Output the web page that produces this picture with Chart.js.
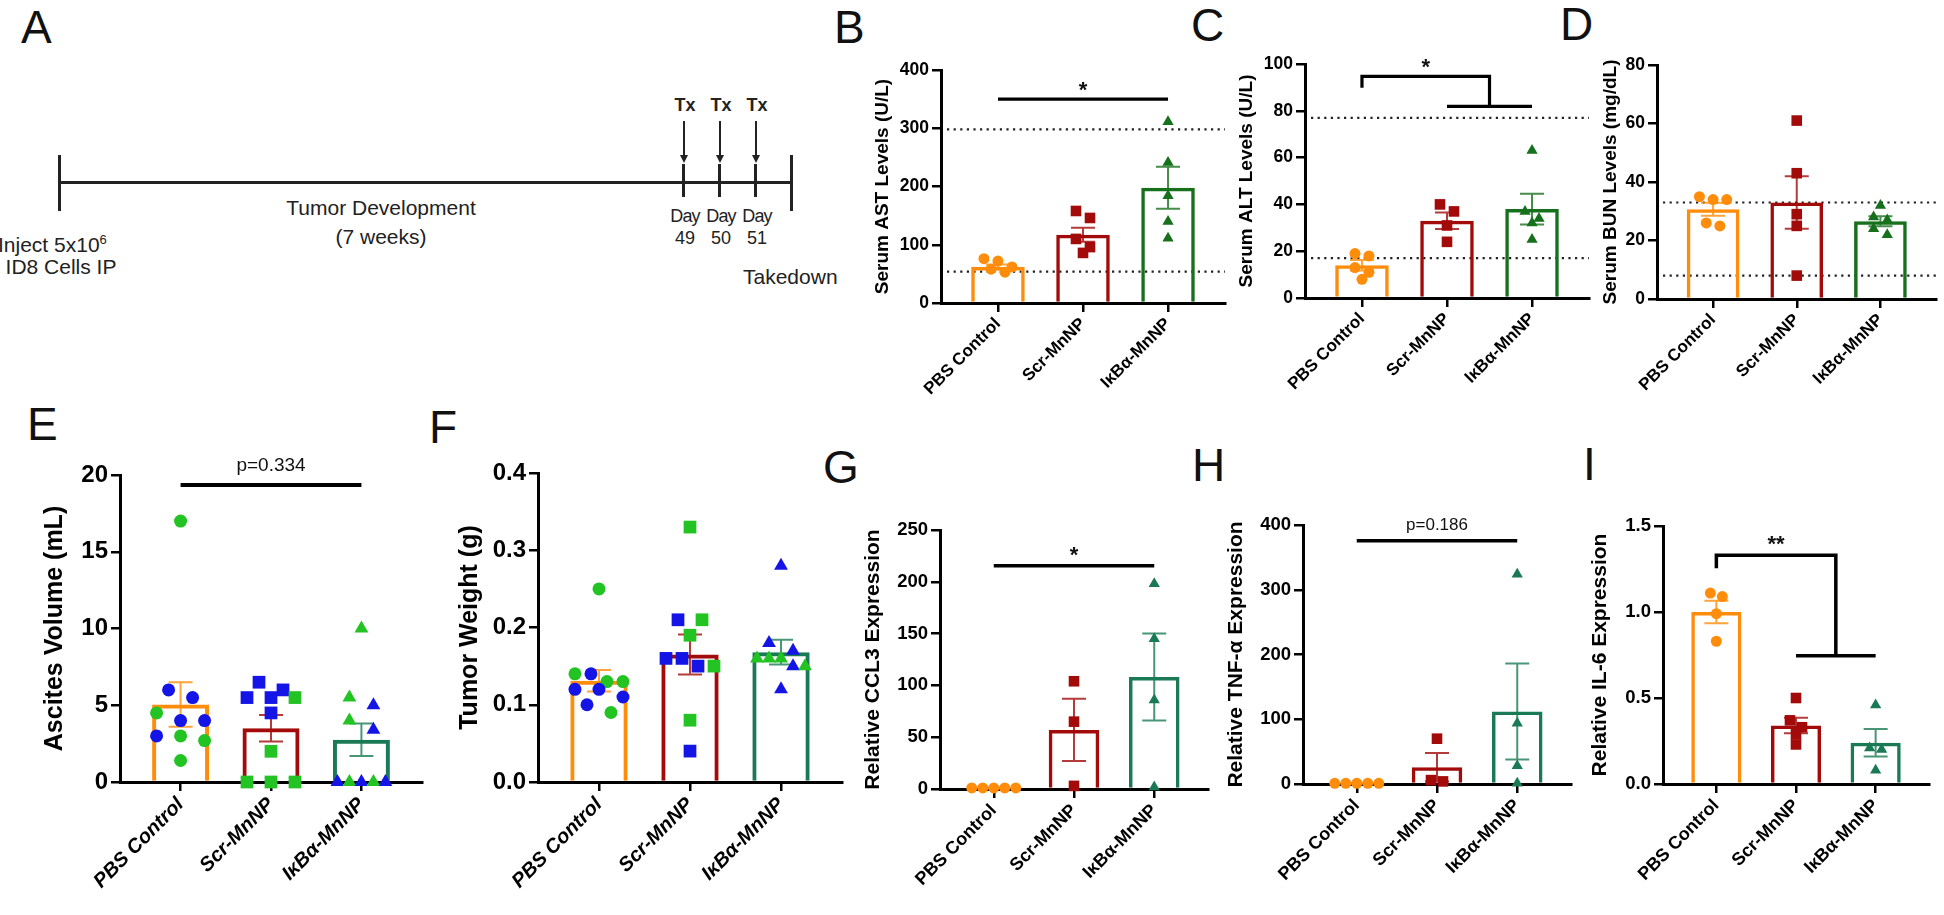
<!DOCTYPE html>
<html>
<head>
<meta charset="utf-8">
<script src="https://cdn.jsdelivr.net/npm/chart.js@4.4.1/dist/chart.umd.min.js"></script>
<style>
  body { margin: 0; width: 1944px; height: 915px; background: #fff; position: relative; overflow: hidden;
         font-family: 'Liberation Sans', Arial, sans-serif; }
  canvas { position: absolute; }
  .lbl { position: absolute; font-size: 46px; line-height: 46px; color: #111; }
  .t { position: absolute; white-space: nowrap; color: #222; text-align: center; }
  .ln { position: absolute; background: #222; }
  .head { position: absolute; width: 0; height: 0; border-left: 4px solid transparent;
          border-right: 4px solid transparent; border-top: 8px solid #222; }
</style>
</head>
<body>

<!-- panel letters -->
<div class="lbl" style="left:21px;top:4px">A</div>
<div class="lbl" style="left:834px;top:4px">B</div>
<div class="lbl" style="left:1191px;top:2px">C</div>
<div class="lbl" style="left:1560px;top:1px">D</div>
<div class="lbl" style="left:27px;top:401px">E</div>
<div class="lbl" style="left:429px;top:404px">F</div>
<div class="lbl" style="left:823px;top:444px">G</div>
<div class="lbl" style="left:1192px;top:442px">H</div>
<div class="lbl" style="left:1583px;top:441px">I</div>

<!-- panel A: study timeline -->
<div class="ln" style="left:59px;top:181px;width:733px;height:3px"></div>
<div class="ln" style="left:58px;top:155px;width:3px;height:56px"></div>
<div class="ln" style="left:790px;top:155px;width:3px;height:56px"></div>
<div class="ln" style="left:682px;top:164px;width:3px;height:33px"></div>
<div class="ln" style="left:718px;top:164px;width:3px;height:33px"></div>
<div class="ln" style="left:754px;top:164px;width:3px;height:33px"></div>
<div class="ln" style="left:683px;top:121px;width:1.5px;height:36px"></div>
<div class="ln" style="left:719px;top:121px;width:1.5px;height:36px"></div>
<div class="ln" style="left:755px;top:121px;width:1.5px;height:36px"></div>
<div class="head" style="left:680px;top:155px"></div>
<div class="head" style="left:716px;top:155px"></div>
<div class="head" style="left:752px;top:155px"></div>
<div class="t" style="left:655px;width:60px;top:96px;font-size:18px;line-height:18px;font-weight:bold">Tx</div>
<div class="t" style="left:691px;width:60px;top:96px;font-size:18px;line-height:18px;font-weight:bold">Tx</div>
<div class="t" style="left:727px;width:60px;top:96px;font-size:18px;line-height:18px;font-weight:bold">Tx</div>
<div class="t" style="left:655px;width:60px;top:207px;font-size:18px;line-height:18px;letter-spacing:-0.8px">Day</div>
<div class="t" style="left:691px;width:60px;top:207px;font-size:18px;line-height:18px;letter-spacing:-0.8px">Day</div>
<div class="t" style="left:727px;width:60px;top:207px;font-size:18px;line-height:18px;letter-spacing:-0.8px">Day</div>
<div class="t" style="left:655px;width:60px;top:229px;font-size:18px;line-height:18px">49</div>
<div class="t" style="left:691px;width:60px;top:229px;font-size:18px;line-height:18px">50</div>
<div class="t" style="left:727px;width:60px;top:229px;font-size:18px;line-height:18px">51</div>
<div class="t" style="left:231px;width:300px;top:197px;font-size:21px;line-height:22px">Tumor Development</div>
<div class="t" style="left:231px;width:300px;top:226px;font-size:21px;line-height:22px">(7 weeks)</div>
<div class="t" style="left:-2px;top:229px;font-size:21px;line-height:22px;text-align:left">Inject 5x10<sup style="font-size:13px">6</sup></div>
<div class="t" style="left:0px;width:122px;top:256px;font-size:21px;line-height:22px">ID8 Cells IP</div>
<div class="t" style="left:743px;top:266px;font-size:21px;line-height:22px;text-align:left">Takedown</div>

<script>
// ---- data ----
const groups = ['PBS Control', 'Scr-MnNP', 'IκBα-MnNP'];

// B: serum AST (U/L)
const astPBS = [76, 72, 62, 58, 53];
const astScr = [158, 146, 110, 96, 86];
const astIkB = [311, 241, 184, 140, 111];
const astMean = [62, 117, 198];
const astSem = [4, 12, 36];
const astNormal = [54, 298];

// C: serum ALT (U/L)
const altPBS = [19, 18, 13, 11, 8];
const altScr = [40, 37, 31, 24];
const altIkB = [63, 37, 34, 32, 25];
const altMean = [14, 33, 38];
const altSem = [2.2, 3.5, 6.6];
const altNormal = [17, 77];

// D: serum BUN (mg/dL)
const bunPBS = [35, 34, 34, 26, 25];
const bunScr = [61, 43, 29, 25, 8];
const bunIkB = [32, 28, 27, 24, 22];
const bunMean = [30.7, 33, 26.6];
const bunSem = [2.2, 9, 1.7];
const bunNormal = [8, 33];

// E: ascites volume (mL), cohort 1 / cohort 2
const ascPBS = [17.0, 6.0, 5.5, 4.5, 4.0, 4.0, 3.0, 3.0, 2.7, 1.4];
const ascPBSCohort = [2, 1, 1, 2, 1, 1, 1, 2, 2, 2];
const ascScr = [6.5, 6.0, 5.5, 5.5, 5.5, 4.5, 2.0, 0, 0, 0];
const ascScrCohort = [1, 1, 1, 1, 2, 1, 2, 2, 2, 2];
const ascIkB = [10.0, 5.5, 5.0, 4.0, 3.4, 0, 0, 0, 0, 0];
const ascIkBCohort = [2, 2, 1, 2, 1, 1, 2, 1, 2, 1];
const ascMean = [5.05, 3.5, 2.75];
const ascSem = [1.45, 0.86, 1.06];

// F: tumor weight (g)
const twPBS = [0.25, 0.14, 0.14, 0.13, 0.13, 0.12, 0.12, 0.11, 0.10, 0.09];
const twPBSCohort = [2, 2, 1, 2, 2, 1, 1, 1, 1, 2];
const twScr = [0.33, 0.21, 0.21, 0.19, 0.16, 0.16, 0.15, 0.15, 0.08, 0.04];
const twScrCohort = [2, 1, 2, 2, 1, 1, 1, 2, 2, 1];
const twIkB = [0.28, 0.18, 0.17, 0.16, 0.16, 0.16, 0.15, 0.15, 0.12];
const twIkBCohort = [1, 1, 1, 2, 2, 2, 1, 2, 1];
const twMean = [0.131, 0.165, 0.168];
const twSem = [0.014, 0.026, 0.016];

// G: relative CCL3
const ccl3PBS = [1, 1, 1, 1, 1];
const ccl3Scr = [104, 65, 3];
const ccl3IkB = [198, 145, 86, 2];
const ccl3Mean = [1, 57, 108];
const ccl3Sem = [0.3, 30, 42];

// H: relative TNF-α
const tnfPBS = [1, 1, 1, 1, 1];
const tnfScr = [70, 6, 4];
const tnfIkB = [324, 94, 28, 1];
const tnfMean = [1, 26, 112];
const tnfSem = [0.3, 22, 74];

// I: relative IL-6
const il6PBS = [1.11, 1.09, 0.99, 0.83];
const il6Scr = [0.50, 0.37, 0.33, 0.29, 0.23];
const il6IkB = [0.46, 0.21, 0.20, 0.08];
const il6Mean = [1.0, 0.34, 0.24];
const il6Sem = [0.065, 0.045, 0.08];

// ---- style ----
const ORANGE = '#ff8c0a', RED = '#a30a0a', GREEN = '#16701c', TEAL = '#1b7a56';
const COHORT = { 1: '#1414e6', 2: '#22c322' };
Chart.defaults.font.family = "'Liberation Sans', Arial, sans-serif";
Chart.defaults.color = '#000';

function fade(hex, a) {
  const n = parseInt(hex.slice(1), 16);
  return `rgba(${n >> 16},${(n >> 8) & 255},${n & 255},${a})`;
}

// spread points sideways when they sit at the same height
function swarm(vals, pxY, pxX, rowH, sp, maxSpread) {
  const order = vals.map((v, i) => i).sort((a, b) => vals[b] - vals[a]);
  const offs = vals.map(() => 0);
  let row = [];
  const flush = () => {
    const k = row.length;
    const step = k > 1 ? Math.min(sp, maxSpread / (k - 1)) : 0;
    row.forEach((idx, j) => { offs[idx] = (j - (k - 1) / 2) * step / pxX; });
    row = [];
  };
  order.forEach(idx => {
    if (row.length && (vals[row[0]] - vals[idx]) * pxY >= rowH) flush();
    row.push(idx);
  });
  flush();
  return offs;
}

const XMIN = -0.67, XMAX = 2.67;
const small = { r: [5.5, 7.5, 6.5], rowH: 10, sp: 14, spread: 42, tick: 17.5, cat: 17, title: 19, bar: 3.5, cb: 412 };
const lower = { r: [5.5, 7.5, 6.5], rowH: 10, sp: 12, spread: 44, tick: 18.5, cat: 18, title: 21, bar: 3.5, cb: 915 };
const big = { r: [6.5, 9, 8], rowH: 13, sp: 24, spread: 48, tick: 24, cat: 20, title: 25, bar: 4, cb: 915, italic: true };

const panels = [
  { st: small, L: 941, T: 70, R: 1225, Bt: 303, tcx: 882, yMax: 400, step: 100,
    title: 'Serum AST Levels (U/L)', pts: [astPBS, astScr, astIkB], mean: astMean, sem: astSem,
    refs: astNormal, colors: [ORANGE, RED, GREEN],
    sig: { kind: 'line', y: 350, text: '*', font: 'bold 22px', dy: 13, lw: 3.2 } },
  { st: small, L: 1305, T: 64, R: 1589, Bt: 298, tcx: 1246, yMax: 100, step: 20,
    title: 'Serum ALT Levels (U/L)', pts: [altPBS, altScr, altIkB], mean: altMean, sem: altSem,
    refs: altNormal, colors: [ORANGE, RED, GREEN],
    sig: { kind: 'bracket', y: 94.7, foot: 89.8, low: 81.9, text: '*', font: 'bold 22px', dy: 13, lw: 3.2 } },
  { st: small, L: 1657, T: 65, R: 1944, Bt: 299, tcx: 1610, yMax: 80, step: 20,
    title: 'Serum BUN Levels (mg/dL)', pts: [bunPBS, bunScr, bunIkB], mean: bunMean, sem: bunSem,
    refs: bunNormal, colors: [ORANGE, RED, GREEN] },
  { st: big, L: 120, T: 475, R: 422, Bt: 782, tcx: 55, yMax: 20, step: 5,
    title: 'Ascites Volume (mL)', pts: [ascPBS, ascScr, ascIkB],
    cohorts: [ascPBSCohort, ascScrCohort, ascIkBCohort], mean: ascMean, sem: ascSem,
    colors: [ORANGE, RED, TEAL],
    sig: { kind: 'line', y: 19.35, text: 'p=0.334', font: '19px', dy: 18, lw: 4 } },
  { st: big, L: 538, T: 473, R: 842, Bt: 782, tcx: 470, yMax: 0.4, step: 0.1, dec: 1,
    title: 'Tumor Weight (g)', pts: [twPBS, twScr, twIkB],
    cohorts: [twPBSCohort, twScrCohort, twIkBCohort], mean: twMean, sem: twSem,
    colors: [ORANGE, RED, TEAL] },
  { st: lower, L: 940, T: 530, R: 1208, Bt: 789, tcx: 874, yMax: 250, step: 50,
    title: 'Relative CCL3 Expression', pts: [ccl3PBS, ccl3Scr, ccl3IkB], mean: ccl3Mean, sem: ccl3Sem,
    colors: [ORANGE, RED, TEAL],
    sig: { kind: 'line', y: 215.6, text: '*', font: 'bold 22px', dy: 14, lw: 3.5 } },
  { st: lower, L: 1303, T: 525, R: 1571, Bt: 784, tcx: 1237, yMax: 400, step: 100,
    title: 'Relative TNF-α Expression', pts: [tnfPBS, tnfScr, tnfIkB], mean: tnfMean, sem: tnfSem,
    colors: [ORANGE, RED, TEAL],
    sig: { kind: 'line', y: 375.7, text: 'p=0.186', font: '17px', dy: 15, lw: 3.5 } },
  { st: lower, L: 1663, T: 526, R: 1929, Bt: 784, tcx: 1601, yMax: 1.5, step: 0.5, dec: 1,
    title: 'Relative IL-6 Expression', pts: [il6PBS, il6Scr, il6IkB], mean: il6Mean, sem: il6Sem,
    colors: [ORANGE, RED, TEAL],
    sig: { kind: 'bracket', y: 1.33, foot: 1.255, low: 0.745, text: '**', font: 'bold 22px', dy: 15, lw: 3.5 } }
];

function makeExtras(p) {
  return {
    id: 'extras',
    beforeDatasetsDraw(chart) {
      // dotted normal-range lines
      const { ctx, chartArea: a, scales: { y } } = chart;
      ctx.save();
      ctx.strokeStyle = '#222'; ctx.lineWidth = 2.2; ctx.setLineDash([2.2, 4.4]);
      (p.refs || []).forEach(v => {
        const py = y.getPixelForValue(v);
        ctx.beginPath(); ctx.moveTo(a.left + 6, py); ctx.lineTo(a.right, py); ctx.stroke();
      });
      ctx.restore();
    },
    afterDatasetDraw(chart, args) {
      if (args.index !== 0) return;
      // mean ± SEM
      const { ctx, scales: { x, y } } = chart;
      ctx.save(); ctx.lineWidth = 2;
      p.mean.forEach((m, i) => {
        const px = x.getPixelForValue(i), hi = y.getPixelForValue(m + p.sem[i]), lo = y.getPixelForValue(m - p.sem[i]);
        ctx.strokeStyle = fade(p.colors[i], 0.8);
        ctx.beginPath();
        ctx.moveTo(px, hi); ctx.lineTo(px, lo);
        ctx.moveTo(px - 12, hi); ctx.lineTo(px + 12, hi);
        ctx.moveTo(px - 12, lo); ctx.lineTo(px + 12, lo);
        ctx.stroke();
      });
      ctx.restore();
    },
    afterDraw(chart) {
      const s = p.sig;
      if (!s) return;
      const { ctx, scales: { x, y } } = chart;
      const x0 = x.getPixelForValue(0), x1 = x.getPixelForValue(1), x2 = x.getPixelForValue(2);
      const xm = x.getPixelForValue(1.5), yT = y.getPixelForValue(s.y);
      let cx = x1;
      ctx.save();
      ctx.strokeStyle = '#000'; ctx.lineWidth = s.lw; ctx.lineJoin = 'miter';
      ctx.beginPath();
      if (s.kind === 'line') {
        ctx.moveTo(x0, yT); ctx.lineTo(x2, yT);
      } else {
        const yl = y.getPixelForValue(s.low);
        ctx.moveTo(x0, y.getPixelForValue(s.foot)); ctx.lineTo(x0, yT); ctx.lineTo(xm, yT); ctx.lineTo(xm, yl);
        ctx.moveTo(x1, yl); ctx.lineTo(x2, yl);
        cx = (x0 + xm) / 2;
      }
      ctx.stroke();
      ctx.font = s.font + " 'Liberation Sans', Arial, sans-serif";
      ctx.fillStyle = '#111'; ctx.textAlign = 'center'; ctx.textBaseline = 'alphabetic';
      const mt = ctx.measureText(s.text);
      ctx.fillText(s.text, cx, yT - s.dy + (mt.actualBoundingBoxAscent - mt.actualBoundingBoxDescent) / 2);
      ctx.restore();
    }
  };
}

panels.forEach(p => {
  const st = p.st;
  const cl = Math.round(p.tcx - st.title * 0.6), ct = p.T - 45;
  const cr = Math.min(1944, p.R + 12), cb = st.cb;
  const cv = document.createElement('canvas');
  cv.width = cr - cl; cv.height = cb - ct;
  cv.style.left = cl + 'px'; cv.style.top = ct + 'px';
  document.body.appendChild(cv);
  const yW = p.L - cl, xH = cb - p.Bt;
  const pxX = (p.R - p.L) / (XMAX - XMIN), pxY = (p.Bt - p.T) / p.yMax;

  const datasets = [{
    type: 'bar', order: 1,
    data: p.mean.map((m, i) => ({ x: i, y: m })),
    backgroundColor: 'rgba(0,0,0,0)', borderColor: p.colors, borderWidth: st.bar,
    barPercentage: 0.63, categoryPercentage: 1
  }];
  p.pts.forEach((vals, g) => {
    const offs = swarm(vals, pxY, pxX, st.rowH, st.sp, st.spread);
    datasets.push({
      type: 'scatter', order: 0, clip: false,
      data: vals.map((v, i) => ({ x: g + offs[i], y: v })),
      pointStyle: ['circle', 'rect', 'triangle'][g],
      pointRadius: st.r[g], pointHoverRadius: st.r[g], pointBorderWidth: 0,
      pointBackgroundColor: p.cohorts ? p.cohorts[g].map(c => COHORT[c]) : p.colors[g]
    });
  });

  const axisGrid = { drawOnChartArea: false, drawTicks: true, tickLength: 9, tickWidth: 2.5,
                     tickColor: '#000', color: '#000', lineWidth: 2.5, offset: false };
  new Chart(cv, {
    type: 'bar',
    data: { datasets },
    options: {
      responsive: false, animation: false, events: [],
      layout: { padding: { left: 0, top: p.T - ct, right: cr - p.R, bottom: 0 } },
      plugins: { legend: { display: false }, tooltip: { enabled: false } },
      scales: {
        x: {
          type: 'linear', min: XMIN, max: XMAX, offset: false,
          afterBuildTicks: s => { s.ticks = groups.map((g, i) => ({ value: i })); },
          afterFit: s => { s.height = xH; },
          ticks: { autoSkip: false, minRotation: 45, maxRotation: 45, padding: 2, color: '#000',
                   font: { size: st.cat, weight: 'bold', style: st.italic ? 'italic' : 'normal' },
                   callback: v => groups[v] },
          grid: axisGrid,
          border: { color: '#000', width: 3 }
        },
        y: {
          min: 0, max: p.yMax,
          afterFit: s => { s.width = yW; },
          ticks: { stepSize: p.step, padding: 3, color: '#000', font: { size: st.tick, weight: 'bold' },
                   callback: v => p.dec ? v.toFixed(p.dec) : v },
          title: { display: true, text: p.title, color: '#000', padding: 0,
                   font: { size: st.title, weight: 'bold' } },
          grid: axisGrid,
          border: { color: '#000', width: 3 }
        }
      }
    },
    plugins: [makeExtras(p)]
  });
});
</script>
</body>
</html>
